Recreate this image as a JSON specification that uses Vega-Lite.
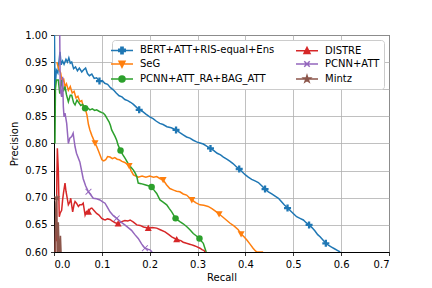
{
"$schema":"https://vega.github.io/schema/vega-lite/v6.json",
"width":335,"height":217,
"autosize":{"type":"none"},
"padding":{"left":54,"top":35,"right":43,"bottom":36},
"config":{
 "font":"DejaVu Sans",
 "view":{"stroke":"black","strokeWidth":1},
 "axis":{"grid":true,"gridColor":"#b0b0b0","gridWidth":0.8,"gridOpacity":1,"domainColor":"black","domainWidth":1,"tickColor":"black","tickSize":3.5,"tickWidth":0.8,"labelFontSize":10,"labelColor":"black","labelFont":"DejaVu Sans","titleFont":"DejaVu Sans","titleFontSize":10,"titleFontWeight":"normal","titleColor":"black","labelPadding":3.5}
},
"data":{"values":[
{"model":"BERT+ATT+RIS-equal+Ens","r":0.001,"p":1.0},{"model":"BERT+ATT+RIS-equal+Ens","r":0.002,"p":0.90},{"model":"BERT+ATT+RIS-equal+Ens","r":0.005,"p":0.935},{"model":"BERT+ATT+RIS-equal+Ens","r":0.008,"p":0.93},{"model":"BERT+ATT+RIS-equal+Ens","r":0.0125,"p":0.969},{"model":"BERT+ATT+RIS-equal+Ens","r":0.015,"p":0.945},{"model":"BERT+ATT+RIS-equal+Ens","r":0.018,"p":0.952},{"model":"BERT+ATT+RIS-equal+Ens","r":0.021,"p":0.946},{"model":"BERT+ATT+RIS-equal+Ens","r":0.025,"p":0.955},{"model":"BERT+ATT+RIS-equal+Ens","r":0.028,"p":0.950},{"model":"BERT+ATT+RIS-equal+Ens","r":0.031,"p":0.958},{"model":"BERT+ATT+RIS-equal+Ens","r":0.034,"p":0.948},{"model":"BERT+ATT+RIS-equal+Ens","r":0.037,"p":0.950},{"model":"BERT+ATT+RIS-equal+Ens","r":0.041,"p":0.938},{"model":"BERT+ATT+RIS-equal+Ens","r":0.045,"p":0.941},{"model":"BERT+ATT+RIS-equal+Ens","r":0.049,"p":0.934},{"model":"BERT+ATT+RIS-equal+Ens","r":0.053,"p":0.939},{"model":"BERT+ATT+RIS-equal+Ens","r":0.058,"p":0.932},{"model":"BERT+ATT+RIS-equal+Ens","r":0.062,"p":0.936},{"model":"BERT+ATT+RIS-equal+Ens","r":0.066,"p":0.939},{"model":"BERT+ATT+RIS-equal+Ens","r":0.070,"p":0.929},{"model":"BERT+ATT+RIS-equal+Ens","r":0.074,"p":0.925},{"model":"BERT+ATT+RIS-equal+Ens","r":0.079,"p":0.928},{"model":"BERT+ATT+RIS-equal+Ens","r":0.084,"p":0.920},{"model":"BERT+ATT+RIS-equal+Ens","r":0.089,"p":0.921},{"model":"BERT+ATT+RIS-equal+Ens","r":0.095,"p":0.915,"mk":1},{"model":"BERT+ATT+RIS-equal+Ens","r":0.101,"p":0.916},{"model":"BERT+ATT+RIS-equal+Ens","r":0.106,"p":0.911},{"model":"BERT+ATT+RIS-equal+Ens","r":0.112,"p":0.909},{"model":"BERT+ATT+RIS-equal+Ens","r":0.118,"p":0.903},{"model":"BERT+ATT+RIS-equal+Ens","r":0.124,"p":0.899},{"model":"BERT+ATT+RIS-equal+Ens","r":0.130,"p":0.893},{"model":"BERT+ATT+RIS-equal+Ens","r":0.136,"p":0.888},{"model":"BERT+ATT+RIS-equal+Ens","r":0.142,"p":0.886},{"model":"BERT+ATT+RIS-equal+Ens","r":0.148,"p":0.881},{"model":"BERT+ATT+RIS-equal+Ens","r":0.154,"p":0.879},{"model":"BERT+ATT+RIS-equal+Ens","r":0.160,"p":0.876},{"model":"BERT+ATT+RIS-equal+Ens","r":0.166,"p":0.872},{"model":"BERT+ATT+RIS-equal+Ens","r":0.172,"p":0.867},{"model":"BERT+ATT+RIS-equal+Ens","r":0.178,"p":0.862,"mk":1},{"model":"BERT+ATT+RIS-equal+Ens","r":0.185,"p":0.859},{"model":"BERT+ATT+RIS-equal+Ens","r":0.192,"p":0.854},{"model":"BERT+ATT+RIS-equal+Ens","r":0.200,"p":0.849},{"model":"BERT+ATT+RIS-equal+Ens","r":0.207,"p":0.846},{"model":"BERT+ATT+RIS-equal+Ens","r":0.214,"p":0.841},{"model":"BERT+ATT+RIS-equal+Ens","r":0.221,"p":0.837},{"model":"BERT+ATT+RIS-equal+Ens","r":0.228,"p":0.835},{"model":"BERT+ATT+RIS-equal+Ens","r":0.236,"p":0.831},{"model":"BERT+ATT+RIS-equal+Ens","r":0.245,"p":0.829},{"model":"BERT+ATT+RIS-equal+Ens","r":0.255,"p":0.825,"mk":1},{"model":"BERT+ATT+RIS-equal+Ens","r":0.263,"p":0.820},{"model":"BERT+ATT+RIS-equal+Ens","r":0.270,"p":0.816},{"model":"BERT+ATT+RIS-equal+Ens","r":0.277,"p":0.812},{"model":"BERT+ATT+RIS-equal+Ens","r":0.284,"p":0.810},{"model":"BERT+ATT+RIS-equal+Ens","r":0.291,"p":0.806},{"model":"BERT+ATT+RIS-equal+Ens","r":0.298,"p":0.803},{"model":"BERT+ATT+RIS-equal+Ens","r":0.305,"p":0.801},{"model":"BERT+ATT+RIS-equal+Ens","r":0.312,"p":0.799},{"model":"BERT+ATT+RIS-equal+Ens","r":0.319,"p":0.795},{"model":"BERT+ATT+RIS-equal+Ens","r":0.327,"p":0.791,"mk":1},{"model":"BERT+ATT+RIS-equal+Ens","r":0.334,"p":0.787},{"model":"BERT+ATT+RIS-equal+Ens","r":0.341,"p":0.782},{"model":"BERT+ATT+RIS-equal+Ens","r":0.348,"p":0.779},{"model":"BERT+ATT+RIS-equal+Ens","r":0.354,"p":0.775},{"model":"BERT+ATT+RIS-equal+Ens","r":0.361,"p":0.771},{"model":"BERT+ATT+RIS-equal+Ens","r":0.368,"p":0.767},{"model":"BERT+ATT+RIS-equal+Ens","r":0.374,"p":0.763},{"model":"BERT+ATT+RIS-equal+Ens","r":0.380,"p":0.758},{"model":"BERT+ATT+RIS-equal+Ens","r":0.387,"p":0.753,"mk":1},{"model":"BERT+ATT+RIS-equal+Ens","r":0.394,"p":0.747},{"model":"BERT+ATT+RIS-equal+Ens","r":0.400,"p":0.742},{"model":"BERT+ATT+RIS-equal+Ens","r":0.406,"p":0.738},{"model":"BERT+ATT+RIS-equal+Ens","r":0.413,"p":0.734},{"model":"BERT+ATT+RIS-equal+Ens","r":0.420,"p":0.731},{"model":"BERT+ATT+RIS-equal+Ens","r":0.427,"p":0.728},{"model":"BERT+ATT+RIS-equal+Ens","r":0.434,"p":0.722},{"model":"BERT+ATT+RIS-equal+Ens","r":0.441,"p":0.716,"mk":1},{"model":"BERT+ATT+RIS-equal+Ens","r":0.448,"p":0.711},{"model":"BERT+ATT+RIS-equal+Ens","r":0.455,"p":0.707},{"model":"BERT+ATT+RIS-equal+Ens","r":0.462,"p":0.703},{"model":"BERT+ATT+RIS-equal+Ens","r":0.469,"p":0.699},{"model":"BERT+ATT+RIS-equal+Ens","r":0.475,"p":0.693},{"model":"BERT+ATT+RIS-equal+Ens","r":0.481,"p":0.687},{"model":"BERT+ATT+RIS-equal+Ens","r":0.488,"p":0.681,"mk":1},{"model":"BERT+ATT+RIS-equal+Ens","r":0.494,"p":0.676},{"model":"BERT+ATT+RIS-equal+Ens","r":0.501,"p":0.670},{"model":"BERT+ATT+RIS-equal+Ens","r":0.507,"p":0.665},{"model":"BERT+ATT+RIS-equal+Ens","r":0.514,"p":0.662},{"model":"BERT+ATT+RIS-equal+Ens","r":0.521,"p":0.659},{"model":"BERT+ATT+RIS-equal+Ens","r":0.527,"p":0.654},{"model":"BERT+ATT+RIS-equal+Ens","r":0.533,"p":0.650,"mk":1},{"model":"BERT+ATT+RIS-equal+Ens","r":0.539,"p":0.645},{"model":"BERT+ATT+RIS-equal+Ens","r":0.545,"p":0.639},{"model":"BERT+ATT+RIS-equal+Ens","r":0.551,"p":0.632},{"model":"BERT+ATT+RIS-equal+Ens","r":0.556,"p":0.628},{"model":"BERT+ATT+RIS-equal+Ens","r":0.562,"p":0.622},{"model":"BERT+ATT+RIS-equal+Ens","r":0.568,"p":0.616,"mk":1},{"model":"BERT+ATT+RIS-equal+Ens","r":0.574,"p":0.612},{"model":"BERT+ATT+RIS-equal+Ens","r":0.580,"p":0.609},{"model":"BERT+ATT+RIS-equal+Ens","r":0.586,"p":0.606},{"model":"BERT+ATT+RIS-equal+Ens","r":0.592,"p":0.603},{"model":"BERT+ATT+RIS-equal+Ens","r":0.598,"p":0.600},
{"model":"SeG","r":0.006,"p":0.95},{"model":"SeG","r":0.009,"p":0.94},{"model":"SeG","r":0.011,"p":0.935},{"model":"SeG","r":0.014,"p":0.93},{"model":"SeG","r":0.017,"p":0.912},{"model":"SeG","r":0.020,"p":0.92},{"model":"SeG","r":0.023,"p":0.905},{"model":"SeG","r":0.026,"p":0.91},{"model":"SeG","r":0.030,"p":0.898},{"model":"SeG","r":0.034,"p":0.905},{"model":"SeG","r":0.038,"p":0.893},{"model":"SeG","r":0.042,"p":0.896},{"model":"SeG","r":0.046,"p":0.884},{"model":"SeG","r":0.050,"p":0.887},{"model":"SeG","r":0.054,"p":0.877},{"model":"SeG","r":0.058,"p":0.879},{"model":"SeG","r":0.062,"p":0.865},{"model":"SeG","r":0.066,"p":0.862},{"model":"SeG","r":0.069,"p":0.852},{"model":"SeG","r":0.072,"p":0.835},{"model":"SeG","r":0.075,"p":0.825},{"model":"SeG","r":0.079,"p":0.815},{"model":"SeG","r":0.0857,"p":0.801,"mk":1},{"model":"SeG","r":0.089,"p":0.795},{"model":"SeG","r":0.093,"p":0.786},{"model":"SeG","r":0.097,"p":0.777},{"model":"SeG","r":0.100,"p":0.770},{"model":"SeG","r":0.104,"p":0.768},{"model":"SeG","r":0.108,"p":0.770},{"model":"SeG","r":0.112,"p":0.776},{"model":"SeG","r":0.117,"p":0.775},{"model":"SeG","r":0.122,"p":0.772},{"model":"SeG","r":0.127,"p":0.774},{"model":"SeG","r":0.132,"p":0.771},{"model":"SeG","r":0.137,"p":0.770},{"model":"SeG","r":0.142,"p":0.767},{"model":"SeG","r":0.148,"p":0.765},{"model":"SeG","r":0.157,"p":0.759,"mk":1},{"model":"SeG","r":0.161,"p":0.750},{"model":"SeG","r":0.166,"p":0.742},{"model":"SeG","r":0.171,"p":0.740},{"model":"SeG","r":0.176,"p":0.738},{"model":"SeG","r":0.184,"p":0.740},{"model":"SeG","r":0.192,"p":0.738},{"model":"SeG","r":0.200,"p":0.740},{"model":"SeG","r":0.208,"p":0.738},{"model":"SeG","r":0.2146,"p":0.739},{"model":"SeG","r":0.222,"p":0.735},{"model":"SeG","r":0.228,"p":0.733,"mk":1},{"model":"SeG","r":0.235,"p":0.724},{"model":"SeG","r":0.242,"p":0.717},{"model":"SeG","r":0.250,"p":0.714},{"model":"SeG","r":0.256,"p":0.712},{"model":"SeG","r":0.263,"p":0.711},{"model":"SeG","r":0.270,"p":0.707},{"model":"SeG","r":0.277,"p":0.705},{"model":"SeG","r":0.283,"p":0.700},{"model":"SeG","r":0.288,"p":0.696,"mk":1},{"model":"SeG","r":0.296,"p":0.691},{"model":"SeG","r":0.305,"p":0.687},{"model":"SeG","r":0.313,"p":0.686},{"model":"SeG","r":0.322,"p":0.684},{"model":"SeG","r":0.330,"p":0.680},{"model":"SeG","r":0.338,"p":0.675},{"model":"SeG","r":0.345,"p":0.670,"mk":1},{"model":"SeG","r":0.352,"p":0.665},{"model":"SeG","r":0.360,"p":0.659},{"model":"SeG","r":0.368,"p":0.653},{"model":"SeG","r":0.376,"p":0.648},{"model":"SeG","r":0.385,"p":0.641},{"model":"SeG","r":0.391,"p":0.633,"mk":1},{"model":"SeG","r":0.397,"p":0.628},{"model":"SeG","r":0.403,"p":0.622},{"model":"SeG","r":0.410,"p":0.614},{"model":"SeG","r":0.416,"p":0.607},{"model":"SeG","r":0.421,"p":0.602},{"model":"SeG","r":0.424,"p":0.600},{"model":"SeG","r":0.437,"p":0.600},
{"model":"PCNN+ATT_RA+BAG_ATT","r":0.002,"p":0.80},{"model":"PCNN+ATT_RA+BAG_ATT","r":0.003,"p":0.90},{"model":"PCNN+ATT_RA+BAG_ATT","r":0.005,"p":0.917},{"model":"PCNN+ATT_RA+BAG_ATT","r":0.009,"p":0.917},{"model":"PCNN+ATT_RA+BAG_ATT","r":0.012,"p":0.892},{"model":"PCNN+ATT_RA+BAG_ATT","r":0.016,"p":0.917},{"model":"PCNN+ATT_RA+BAG_ATT","r":0.0195,"p":0.896},{"model":"PCNN+ATT_RA+BAG_ATT","r":0.023,"p":0.905},{"model":"PCNN+ATT_RA+BAG_ATT","r":0.026,"p":0.890},{"model":"PCNN+ATT_RA+BAG_ATT","r":0.030,"p":0.877},{"model":"PCNN+ATT_RA+BAG_ATT","r":0.034,"p":0.889},{"model":"PCNN+ATT_RA+BAG_ATT","r":0.037,"p":0.889},{"model":"PCNN+ATT_RA+BAG_ATT","r":0.041,"p":0.875},{"model":"PCNN+ATT_RA+BAG_ATT","r":0.044,"p":0.871},{"model":"PCNN+ATT_RA+BAG_ATT","r":0.048,"p":0.880},{"model":"PCNN+ATT_RA+BAG_ATT","r":0.052,"p":0.875},{"model":"PCNN+ATT_RA+BAG_ATT","r":0.056,"p":0.870},{"model":"PCNN+ATT_RA+BAG_ATT","r":0.060,"p":0.872},{"model":"PCNN+ATT_RA+BAG_ATT","r":0.065,"p":0.865,"mk":1},{"model":"PCNN+ATT_RA+BAG_ATT","r":0.070,"p":0.866},{"model":"PCNN+ATT_RA+BAG_ATT","r":0.075,"p":0.862},{"model":"PCNN+ATT_RA+BAG_ATT","r":0.080,"p":0.864},{"model":"PCNN+ATT_RA+BAG_ATT","r":0.085,"p":0.861},{"model":"PCNN+ATT_RA+BAG_ATT","r":0.089,"p":0.862},{"model":"PCNN+ATT_RA+BAG_ATT","r":0.095,"p":0.859},{"model":"PCNN+ATT_RA+BAG_ATT","r":0.100,"p":0.857},{"model":"PCNN+ATT_RA+BAG_ATT","r":0.103,"p":0.856},{"model":"PCNN+ATT_RA+BAG_ATT","r":0.107,"p":0.852},{"model":"PCNN+ATT_RA+BAG_ATT","r":0.111,"p":0.846},{"model":"PCNN+ATT_RA+BAG_ATT","r":0.115,"p":0.840},{"model":"PCNN+ATT_RA+BAG_ATT","r":0.118,"p":0.833},{"model":"PCNN+ATT_RA+BAG_ATT","r":0.1205,"p":0.825},{"model":"PCNN+ATT_RA+BAG_ATT","r":0.124,"p":0.819},{"model":"PCNN+ATT_RA+BAG_ATT","r":0.1275,"p":0.813},{"model":"PCNN+ATT_RA+BAG_ATT","r":0.131,"p":0.806},{"model":"PCNN+ATT_RA+BAG_ATT","r":0.134,"p":0.797},{"model":"PCNN+ATT_RA+BAG_ATT","r":0.139,"p":0.787,"mk":1},{"model":"PCNN+ATT_RA+BAG_ATT","r":0.144,"p":0.779},{"model":"PCNN+ATT_RA+BAG_ATT","r":0.149,"p":0.772},{"model":"PCNN+ATT_RA+BAG_ATT","r":0.155,"p":0.763},{"model":"PCNN+ATT_RA+BAG_ATT","r":0.160,"p":0.757},{"model":"PCNN+ATT_RA+BAG_ATT","r":0.166,"p":0.751},{"model":"PCNN+ATT_RA+BAG_ATT","r":0.170,"p":0.745},{"model":"PCNN+ATT_RA+BAG_ATT","r":0.173,"p":0.739},{"model":"PCNN+ATT_RA+BAG_ATT","r":0.176,"p":0.727},{"model":"PCNN+ATT_RA+BAG_ATT","r":0.182,"p":0.726},{"model":"PCNN+ATT_RA+BAG_ATT","r":0.190,"p":0.724},{"model":"PCNN+ATT_RA+BAG_ATT","r":0.197,"p":0.722},{"model":"PCNN+ATT_RA+BAG_ATT","r":0.204,"p":0.720,"mk":1},{"model":"PCNN+ATT_RA+BAG_ATT","r":0.209,"p":0.714},{"model":"PCNN+ATT_RA+BAG_ATT","r":0.2146,"p":0.708},{"model":"PCNN+ATT_RA+BAG_ATT","r":0.2215,"p":0.696},{"model":"PCNN+ATT_RA+BAG_ATT","r":0.228,"p":0.692},{"model":"PCNN+ATT_RA+BAG_ATT","r":0.2355,"p":0.687},{"model":"PCNN+ATT_RA+BAG_ATT","r":0.241,"p":0.680},{"model":"PCNN+ATT_RA+BAG_ATT","r":0.246,"p":0.674},{"model":"PCNN+ATT_RA+BAG_ATT","r":0.250,"p":0.668},{"model":"PCNN+ATT_RA+BAG_ATT","r":0.254,"p":0.662,"mk":1},{"model":"PCNN+ATT_RA+BAG_ATT","r":0.258,"p":0.659},{"model":"PCNN+ATT_RA+BAG_ATT","r":0.263,"p":0.656},{"model":"PCNN+ATT_RA+BAG_ATT","r":0.270,"p":0.652},{"model":"PCNN+ATT_RA+BAG_ATT","r":0.277,"p":0.647},{"model":"PCNN+ATT_RA+BAG_ATT","r":0.284,"p":0.641},{"model":"PCNN+ATT_RA+BAG_ATT","r":0.291,"p":0.634},{"model":"PCNN+ATT_RA+BAG_ATT","r":0.297,"p":0.630},{"model":"PCNN+ATT_RA+BAG_ATT","r":0.304,"p":0.625,"mk":1},{"model":"PCNN+ATT_RA+BAG_ATT","r":0.308,"p":0.620},{"model":"PCNN+ATT_RA+BAG_ATT","r":0.312,"p":0.616},{"model":"PCNN+ATT_RA+BAG_ATT","r":0.315,"p":0.608},{"model":"PCNN+ATT_RA+BAG_ATT","r":0.318,"p":0.600},
{"model":"DISTRE","r":0.003,"p":0.60},{"model":"DISTRE","r":0.004,"p":0.68},{"model":"DISTRE","r":0.005,"p":0.62},{"model":"DISTRE","r":0.006,"p":0.74},{"model":"DISTRE","r":0.007,"p":0.791},{"model":"DISTRE","r":0.009,"p":0.751},{"model":"DISTRE","r":0.011,"p":0.665},{"model":"DISTRE","r":0.013,"p":0.672},{"model":"DISTRE","r":0.016,"p":0.677},{"model":"DISTRE","r":0.018,"p":0.696},{"model":"DISTRE","r":0.020,"p":0.710},{"model":"DISTRE","r":0.023,"p":0.727},{"model":"DISTRE","r":0.025,"p":0.712},{"model":"DISTRE","r":0.0265,"p":0.705},{"model":"DISTRE","r":0.030,"p":0.687},{"model":"DISTRE","r":0.033,"p":0.692},{"model":"DISTRE","r":0.035,"p":0.699},{"model":"DISTRE","r":0.037,"p":0.686},{"model":"DISTRE","r":0.039,"p":0.674},{"model":"DISTRE","r":0.042,"p":0.688},{"model":"DISTRE","r":0.044,"p":0.693},{"model":"DISTRE","r":0.047,"p":0.690},{"model":"DISTRE","r":0.051,"p":0.684},{"model":"DISTRE","r":0.054,"p":0.687},{"model":"DISTRE","r":0.058,"p":0.687},{"model":"DISTRE","r":0.061,"p":0.690},{"model":"DISTRE","r":0.065,"p":0.668},{"model":"DISTRE","r":0.068,"p":0.675},{"model":"DISTRE","r":0.072,"p":0.674,"mk":1},{"model":"DISTRE","r":0.076,"p":0.680},{"model":"DISTRE","r":0.079,"p":0.681},{"model":"DISTRE","r":0.084,"p":0.676},{"model":"DISTRE","r":0.089,"p":0.671},{"model":"DISTRE","r":0.094,"p":0.668},{"model":"DISTRE","r":0.0997,"p":0.662},{"model":"DISTRE","r":0.104,"p":0.660},{"model":"DISTRE","r":0.107,"p":0.659},{"model":"DISTRE","r":0.112,"p":0.661},{"model":"DISTRE","r":0.117,"p":0.660},{"model":"DISTRE","r":0.122,"p":0.657},{"model":"DISTRE","r":0.128,"p":0.654},{"model":"DISTRE","r":0.134,"p":0.652,"mk":1},{"model":"DISTRE","r":0.1415,"p":0.656},{"model":"DISTRE","r":0.148,"p":0.658},{"model":"DISTRE","r":0.154,"p":0.657},{"model":"DISTRE","r":0.159,"p":0.659},{"model":"DISTRE","r":0.166,"p":0.655},{"model":"DISTRE","r":0.173,"p":0.650},{"model":"DISTRE","r":0.180,"p":0.649},{"model":"DISTRE","r":0.187,"p":0.646},{"model":"DISTRE","r":0.192,"p":0.645},{"model":"DISTRE","r":0.197,"p":0.644,"mk":1},{"model":"DISTRE","r":0.205,"p":0.645},{"model":"DISTRE","r":0.2146,"p":0.644},{"model":"DISTRE","r":0.222,"p":0.641},{"model":"DISTRE","r":0.232,"p":0.637},{"model":"DISTRE","r":0.240,"p":0.632},{"model":"DISTRE","r":0.246,"p":0.628},{"model":"DISTRE","r":0.2564,"p":0.623,"mk":1},{"model":"DISTRE","r":0.265,"p":0.621},{"model":"DISTRE","r":0.270,"p":0.618},{"model":"DISTRE","r":0.277,"p":0.616},{"model":"DISTRE","r":0.285,"p":0.614},{"model":"DISTRE","r":0.292,"p":0.612},{"model":"DISTRE","r":0.298,"p":0.610},{"model":"DISTRE","r":0.305,"p":0.607},{"model":"DISTRE","r":0.310,"p":0.604},{"model":"DISTRE","r":0.313,"p":0.603},{"model":"DISTRE","r":0.316,"p":0.600},
{"model":"PCNN+ATT","r":0.012,"p":1.0},{"model":"PCNN+ATT","r":0.0125,"p":0.95},{"model":"PCNN+ATT","r":0.013,"p":0.90},{"model":"PCNN+ATT","r":0.016,"p":0.886},{"model":"PCNN+ATT","r":0.018,"p":0.923},{"model":"PCNN+ATT","r":0.0195,"p":0.868},{"model":"PCNN+ATT","r":0.021,"p":0.849},{"model":"PCNN+ATT","r":0.023,"p":0.856},{"model":"PCNN+ATT","r":0.0265,"p":0.837},{"model":"PCNN+ATT","r":0.030,"p":0.80},{"model":"PCNN+ATT","r":0.033,"p":0.81},{"model":"PCNN+ATT","r":0.037,"p":0.813},{"model":"PCNN+ATT","r":0.040,"p":0.819},{"model":"PCNN+ATT","r":0.042,"p":0.806},{"model":"PCNN+ATT","r":0.044,"p":0.794},{"model":"PCNN+ATT","r":0.047,"p":0.782},{"model":"PCNN+ATT","r":0.054,"p":0.766},{"model":"PCNN+ATT","r":0.061,"p":0.735},{"model":"PCNN+ATT","r":0.066,"p":0.722},{"model":"PCNN+ATT","r":0.072,"p":0.711,"mk":1},{"model":"PCNN+ATT","r":0.077,"p":0.705},{"model":"PCNN+ATT","r":0.082,"p":0.699},{"model":"PCNN+ATT","r":0.089,"p":0.698},{"model":"PCNN+ATT","r":0.096,"p":0.696},{"model":"PCNN+ATT","r":0.101,"p":0.693},{"model":"PCNN+ATT","r":0.1066,"p":0.690},{"model":"PCNN+ATT","r":0.112,"p":0.682},{"model":"PCNN+ATT","r":0.117,"p":0.674},{"model":"PCNN+ATT","r":0.124,"p":0.667},{"model":"PCNN+ATT","r":0.131,"p":0.662,"mk":1},{"model":"PCNN+ATT","r":0.140,"p":0.655},{"model":"PCNN+ATT","r":0.148,"p":0.650},{"model":"PCNN+ATT","r":0.155,"p":0.645},{"model":"PCNN+ATT","r":0.162,"p":0.640},{"model":"PCNN+ATT","r":0.169,"p":0.632},{"model":"PCNN+ATT","r":0.176,"p":0.625},{"model":"PCNN+ATT","r":0.183,"p":0.615},{"model":"PCNN+ATT","r":0.190,"p":0.607,"mk":1},{"model":"PCNN+ATT","r":0.196,"p":0.605},{"model":"PCNN+ATT","r":0.2006,"p":0.604},{"model":"PCNN+ATT","r":0.205,"p":0.600},
{"model":"Mintz","r":0.002,"p":0.58},{"model":"Mintz","r":0.004,"p":0.69},{"model":"Mintz","r":0.0056,"p":0.70,"mk":1},{"model":"Mintz","r":0.007,"p":0.58},{"model":"Mintz","r":0.009,"p":0.655},{"model":"Mintz","r":0.0115,"p":0.58},{"model":"Mintz","r":0.0135,"p":0.63},{"model":"Mintz","r":0.0155,"p":0.58}
]},
"encoding":{
 "x":{"field":"r","type":"quantitative","scale":{"domain":[0,0.7],"nice":false,"zero":false},"axis":{"values":[0,0.1,0.2,0.3,0.4,0.5,0.6,0.7],"format":".1f","title":"Recall","titlePadding":3}},
 "y":{"field":"p","type":"quantitative","scale":{"domain":[0.6,1.0],"nice":false,"zero":false},"axis":{"values":[0.6,0.65,0.7,0.75,0.8,0.85,0.9,0.95,1.0],"format":".2f","title":"Precision","titlePadding":5}},
 "color":{"field":"model","type":"nominal","scale":{"domain":["BERT+ATT+RIS-equal+Ens","SeG","PCNN+ATT_RA+BAG_ATT","DISTRE","PCNN+ATT","Mintz"],"range":["#1f77b4","#ff7f0e","#2ca02c","#d62728","#9467bd","#8c564b"]},
  "legend":{"title":null,"orient":"top-right","offset":5,"columns":2,"padding":4,"fillColor":"white","strokeColor":"#cccccc","cornerRadius":3,"labelFontSize":10,"labelFont":"DejaVu Sans","labelColor":"black","labelLimit":300,"symbolSize":100,"labelOffset":12,"columnPadding":18,"rowPadding":1,
   "encode":{"symbols":{"update":{
     "shape":{"signal":"datum.value==='BERT+ATT+RIS-equal+Ens' ? 'M-2.2,0H2.2M-0.22,-0.65H0.22V-0.22H0.65V0.22H0.22V0.65H-0.22V0.22H-0.65V-0.22H-0.22Z' : datum.value==='SeG' ? 'M-2.2,0H2.2M-0.6,-0.55H0.6L0,0.65Z' : datum.value==='PCNN+ATT_RA+BAG_ATT' ? 'M-2.2,0H2.2M0.6,0A0.6,0.6 0 1,1 -0.6,0A0.6,0.6 0 1,1 0.6,0Z' : datum.value==='DISTRE' ? 'M-2.2,0H2.2M-0.6,0.55H0.6L0,-0.65Z' : datum.value==='PCNN+ATT' ? 'M-2.2,0H2.2M-0.55,-0.55L0.55,0.55M-0.55,0.55L0.55,-0.55' : 'M-2.2,0H2.2M0,-0.7L0.157,-0.216L0.666,-0.216L0.254,0.083L0.412,0.566L0,0.267L-0.412,0.566L-0.254,0.083L-0.666,-0.216L-0.157,-0.216Z'"},
     "fill":{"scale":"color","field":"value"},
     "stroke":{"scale":"color","field":"value"},
     "strokeWidth":{"value":1.5},
     "size":{"value":100},
     "fillOpacity":{"value":1},
     "opacity":{"value":1}
   }}}
  }}
},
"layer":[
 {"mark":{"type":"line","clip":true,"strokeWidth":1.5}},
 {"transform":[{"filter":"datum.mk===1 && datum.model==='BERT+ATT+RIS-equal+Ens'"}],"mark":{"type":"point","filled":true,"clip":true,"size":49,"opacity":1,"shape":"M-0.33,-1H0.33V-0.33H1V0.33H0.33V1H-0.33V0.33H-1V-0.33H-0.33Z"}},
 {"transform":[{"filter":"datum.mk===1 && datum.model==='SeG'"}],"mark":{"type":"point","filled":true,"clip":true,"size":49,"opacity":1,"shape":"M-1,-0.8H1L0,1Z"}},
 {"transform":[{"filter":"datum.mk===1 && datum.model==='PCNN+ATT_RA+BAG_ATT'"}],"mark":{"type":"point","filled":true,"clip":true,"size":42,"opacity":1,"shape":"circle"}},
 {"transform":[{"filter":"datum.mk===1 && datum.model==='DISTRE'"}],"mark":{"type":"point","filled":true,"clip":true,"size":49,"opacity":1,"shape":"M-1,0.8H1L0,-1Z"}},
 {"transform":[{"filter":"datum.mk===1 && datum.model==='PCNN+ATT'"}],"mark":{"type":"point","filled":true,"clip":true,"size":42,"opacity":1,"shape":"M-1,-0.8L-0.8,-1L0,-0.2L0.8,-1L1,-0.8L0.2,0L1,0.8L0.8,1L0,0.2L-0.8,1L-1,0.8L-0.2,0Z"}},
 {"transform":[{"filter":"datum.mk===1 && datum.model==='Mintz'"}],"mark":{"type":"point","filled":true,"clip":true,"size":64,"opacity":1,"shape":"M0,-1L0.2245,-0.309L0.951,-0.309L0.363,0.118L0.588,0.809L0,0.382L-0.588,0.809L-0.363,0.118L-0.951,-0.309L-0.2245,-0.309Z"}}
]
}
